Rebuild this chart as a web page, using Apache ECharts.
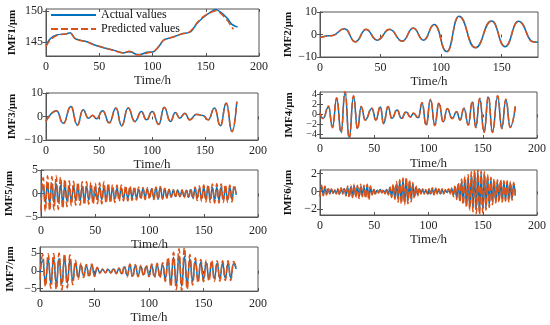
<!DOCTYPE html>
<html><head><meta charset="utf-8">
<script src="https://cdn.jsdelivr.net/npm/echarts@6/dist/echarts.min.js"></script>
<style>html,body{margin:0;padding:0;background:#fff}#c{width:550px;height:325px}</style>
</head><body><div id="c"></div>
<script>
// ---------- DATA ----------
const seriesNames = ['Actual values', 'Predicted values'];
const xName = 'Time/h';
const yNames = ['IMF1/μm', 'IMF2/μm', 'IMF3/μm', 'IMF4/μm', 'IMF5/μm', 'IMF6/μm', 'IMF7/μm'];

// IMF1 (slow trend)
const imf1TimeActual = [0,4,10,19.5,22.6,27.3,32,38.3,44.6,50.9,57,63.4,69.7,72.8,77.6,80.7,85.4,88.5,94.8,101,105.8,110.5,113.7,120,127.8,135.6,142,148.2,154.5,159.2,163.9,170.2,174.3,178,180];
const imf1Actual = [144.4,145.5,146.1,146.3,146.45,145.5,145.27,145.0,144.57,144.2,143.9,143.65,143.3,143.2,143.4,143.3,142.95,142.95,143.3,143.4,144.2,145.3,145.5,145.8,146.3,146.6,148.0,149.0,149.8,150.2,149.8,148.8,147.85,147.5,147.4];
const imf1TimePred = [0,4,10,19,23,27,32,38,45,51,57,63,70,73,78,81,85,89,95,101,106,110,114,120,128,135,142,148,154,160,164,170,174,176];
const imf1Pred = [144.2,145.3,146.0,146.3,146.4,145.6,145.2,145.0,144.5,144.25,143.9,143.6,143.25,143.2,143.45,143.3,142.9,142.9,143.2,143.4,144.3,145.2,145.5,145.8,146.3,146.6,148.1,149.1,149.7,150.0,149.6,148.5,147.5,147.0];

// IMF2 (turning points)
const imf2Time = [0,10,20.3,29.2,38,47.2,57.5,68,77,85.5,94.4,104.7,114.7,128.3,141.7,152.8,163.9,176.4,180];
const imf2Actual = [-1.3,-0.4,2.6,-3.2,2.2,-2.5,2.2,-2.9,2.9,-2.5,4.4,-7.6,8.1,-5.9,6.0,-5.4,5.9,-3.2,-3.5];
const imf2Pred = [-1.4,-0.5,2.7,-3.3,2.3,-2.4,2.3,-3.0,2.8,-2.6,4.3,-7.7,8.0,-5.8,6.1,-5.3,5.8,-3.3,-3.6];

// IMF3 (turning points)
const imf3Time = [0,10,16.3,23.5,29.5,35,40,44,47.7,53.4,59.7,66,71.3,77.5,83.8,90,94.8,100.2,106.4,111.5,117.4,122,126.2,131,135.6,142,148,153,159,164.5,170,175.5,180];
const imf3Actual = [-1.9,2.4,-2.9,4.3,-3.6,2.9,-0.7,0.4,-1.0,2.4,-2.6,3.6,-3.9,3.6,-2.1,2.1,-1.4,2.1,-3.3,3.9,-2.1,1.7,-0.7,1.4,-1.4,1.0,0.4,-1.4,3.6,-3.9,5.7,-6.4,6.4];
const imf3Pred = [-2.0,2.3,-3.0,4.4,-3.8,2.8,-0.8,0.5,-1.1,2.5,-2.8,3.5,-4.0,3.7,-2.2,2.0,-1.5,2.2,-3.4,3.8,-2.2,1.6,-0.8,1.3,-1.5,0.9,0.5,-1.5,3.5,-4.1,5.6,-6.5,6.2];

// IMF4 (turning points)
const imf4Time = [0,2.9,7.8,11.5,15.4,19.4,23.1,26.9,30.9,34.6,37.9,41.7,47.8,51.5,55.6,58.6,62.7,66.3,71,75,79.4,83.3,86.2,90.5,94.1,97.8,101.9,105.8,109.6,113.6,117.3,121.9,125.9,129.1,132.7,136.7,140.4,143.6,147.2,151.2,155.2,158.9,163.7,167.6,171.3,175.3,180];
const imf4Actual = [0.2,-0.8,1.5,-2.5,3.2,-3.5,4.4,-4.7,3.5,-2.8,1.5,-1.1,1.2,-1.1,1.5,-1.8,1.5,-0.8,0.9,-0.8,0.5,-0.5,0.2,-0.7,2.2,-2.1,2.9,-2.1,2.2,-1.5,1.1,-0.8,0.5,-1.1,1.2,-2.0,2.5,-2.5,3.1,-3.5,3.5,-3.5,3.5,-2.7,2.9,-2.5,1.5];
const imf4Pred = [0.3,-0.9,1.7,-2.7,3.4,-3.8,4.7,-5.0,3.8,-3.0,1.6,-1.2,1.3,-1.2,1.6,-1.9,1.6,-0.9,1.0,-0.9,0.6,-0.6,0.3,-0.8,2.4,-2.3,3.1,-2.3,2.4,-1.6,1.2,-0.9,0.6,-1.2,1.3,-2.2,2.7,-2.7,3.3,-3.7,3.7,-3.7,3.8,-2.9,3.1,-2.7,1.8];

// IMF5 (turning points every 2 h)
const imf5Step = 2;
const imf5Actual = [
 -0.8,1.6,-1.9,2.0,-2.1,2.2,-2.0,2.1,-1.9,1.8,
 -1.8,1.7,-1.6,1.5,-1.6,1.6,-1.5,1.4,-1.5,1.5,
 -1.4,1.5,-1.4,1.3,-1.5,1.4,-1.3,1.4,-1.3,1.3,
 -1.2,1.3,-1.2,1.1,-1.2,1.1,-1.0,1.1,-1.0,1.0,
 -1.0,1.1,-0.9,1.0,-0.9,0.9,-0.9,1.0,-0.8,0.9,
 -0.9,1.0,-1.0,1.3,-1.2,1.4,-1.1,1.0,-0.8,0.8,
 -0.7,0.7,-0.6,0.7,-0.6,0.6,-0.7,0.7,-0.8,0.8,
 -0.9,1.0,-1.0,1.1,-1.1,1.2,-1.2,1.3,-1.3,1.3,
 -1.4,1.3,-1.4,1.4,-1.3,1.3,-1.4,1.3,-1.2,1.2,
 -0.3];
const imf5Pred = [
 -3.6,3.4,-3.8,3.8,-3.7,3.6,-3.5,3.8,-3.4,3.5,
 -3.2,3.0,-2.8,2.7,-2.6,2.6,-2.5,2.4,-2.5,2.5,
 -2.4,2.5,-2.3,2.4,-2.3,2.2,-2.2,2.3,-2.2,2.5,
 -2.1,2.2,-2.0,1.9,-1.9,1.8,-1.7,1.8,-1.6,1.7,
 -1.6,1.6,-1.5,1.5,-1.4,1.4,-1.3,1.3,-1.3,1.2,
 -1.2,1.2,-1.3,1.4,-1.3,1.5,-1.2,1.1,-1.0,0.9,
 -0.8,0.8,-0.8,0.8,-0.7,0.8,-0.9,0.9,-1.0,1.1,
 -1.2,1.4,-1.5,1.6,-1.7,1.8,-1.8,1.9,-1.9,2.0,
 -2.0,2.1,-2.0,2.0,-1.9,1.9,-1.9,1.8,-1.8,1.8,
 -0.6];

// IMF6 (turning points every 1.5 h)
const imf6Step = 1.5;
const imf6Actual = [
 -0.5,0.5,-0.4,0.5,-0.3,0.3,-0.2,0.2,-0.2,0.1,
 -0.2,0.2,-0.3,0.3,-0.2,0.3,-0.4,0.4,-0.5,0.5,
 -0.5,0.6,-0.5,0.5,-0.6,0.5,-0.4,0.5,-0.5,0.6,
 -0.6,0.4,-0.3,0.2,-0.2,0.1,-0.1,0.2,-0.1,0.1,
 -0.2,0.2,-0.3,0.4,-0.5,0.6,-0.7,0.8,-0.9,1.0,
 -1.1,1.2,-1.2,1.1,-1.1,1.0,-0.9,0.8,-0.6,0.5,
 -0.4,0.3,-0.2,0.2,-0.2,0.1,-0.2,0.2,-0.3,0.3,
 -0.3,0.3,-0.2,0.2,-0.3,0.2,-0.2,0.1,-0.1,0.2,
 -0.2,0.3,-0.4,0.5,-0.7,0.8,-1.0,1.1,-1.2,1.4,
 -1.5,1.6,-1.7,1.8,-1.9,2.0,-2.0,2.1,-2.2,2.0,
 -2.1,1.9,-1.8,1.6,-1.5,1.3,-1.2,1.1,-1.1,1.0,
 -1.0,1.1,-1.0,1.0,-0.9,1.0,-1.0,0.9,-0.8,0.8,
 -0.4];
const imf6Pred = [
 -0.6,0.7,-0.5,0.6,-0.4,0.4,-0.3,0.3,-0.2,0.2,
 -0.3,0.3,-0.4,0.4,-0.3,0.4,-0.5,0.6,-0.7,0.7,
 -0.7,0.8,-0.7,0.7,-0.8,0.8,-0.6,0.7,-0.8,0.8,
 -1.0,0.6,-0.4,0.3,-0.3,0.2,-0.2,0.3,-0.2,0.2,
 -0.3,0.3,-0.4,0.5,-0.7,0.8,-0.9,1.1,-1.2,1.3,
 -1.4,1.5,-1.5,1.6,-1.4,1.3,-1.2,1.0,-0.8,0.6,
 -0.5,0.4,-0.3,0.3,-0.3,0.2,-0.3,0.3,-0.4,0.4,
 -0.4,0.4,-0.3,0.3,-0.4,0.3,-0.3,0.2,-0.2,0.3,
 -0.3,0.4,-0.6,0.7,-0.9,1.0,-1.2,1.4,-1.5,1.7,
 -1.8,1.9,-2.1,2.2,-2.3,2.4,-2.5,2.4,-2.6,2.3,
 -2.4,2.2,-2.1,1.9,-1.8,1.6,-1.5,1.4,-1.3,1.3,
 -1.2,1.3,-1.2,1.2,-1.1,1.2,-1.2,1.1,-1.0,1.0,
 -0.5];

// IMF7 (turning points every 2.5 h)
const imf7Step = 2.5;
const imf7Actual = [
 -0.5,3.0,-3.2,3.3,-3.5,3.4,-3.6,3.5,-3.7,3.5,
 -3.4,3.2,-2.8,2.2,-1.8,1.6,-1.4,1.3,-1.4,1.4,
 -1.2,0.7,-0.5,0.4,-0.5,0.4,-0.5,0.5,-0.6,0.6,
 -0.8,1.1,-1.3,1.4,-1.5,1.4,-1.3,1.2,-1.1,1.2,
 -1.3,1.4,-1.5,1.6,-1.5,1.7,-2.2,2.8,-3.3,3.8,
 -4.0,4.2,-4.3,4.1,-3.8,3.4,-3.0,2.8,-2.6,2.5,
 -2.4,2.3,-2.2,2.3,-2.2,2.1,-2.2,2.1,-2.0,2.1,
 -2.0,2.0,0.5];
const imf7Pred = [
 -2.5,4.6,-4.4,4.8,-5.0,4.9,-5.3,5.0,-5.4,4.8,
 -4.8,4.5,-3.9,3.0,-2.4,2.1,-1.9,1.8,-1.8,1.9,
 -1.6,1.0,-0.7,0.6,-0.6,0.6,-0.7,0.7,-0.8,0.8,
 -1.1,1.5,-1.7,1.9,-1.9,1.8,-1.7,1.6,-1.5,1.6,
 -1.7,1.9,-2.0,2.1,-2.0,2.3,-3.0,3.8,-4.5,5.2,
 -5.3,6.2,-5.6,6.5,-5.2,4.6,-4.0,3.7,-3.4,3.2,
 -3.1,3.0,-2.9,3.0,-2.9,2.8,-2.9,2.8,-2.7,2.8,
 -2.7,2.6,0.8];

// Axis ticks
const xTicksFull = [0,50,100,150,200];
const xTicksShort = [0,50,100,150];
const yTicks = [[145,150],[-10,0,10],[-10,0,10],[-4,-2,0,2,4],[-5,0,5],[-2,0,2],[-5,0,5]];
const xMaxes = [200,180,200,200,200,200,200];
const yMins = [142.7,-10,-10,-4.8,-5,-2.65,-5.7];
const yMaxes = [150.3,10,10,4.55,5,2.4,6.7];

// ---------- LAYOUT (positions only) ----------
const layout = [
  {left:46, top:9,   width:213, height:47, yGap:28, xGap:17, lblM:5, yFs:12},
  {left:320,top:12,  width:218, height:45, yGap:26, xGap:17, lblM:5, yFs:12},
  {left:46, top:93,  width:212, height:47, yGap:28, xGap:17, lblM:5, yFs:12},
  {left:320,top:92,  width:217, height:46, yGap:25, xGap:19, lblM:5, yFs:10},
  {left:41, top:170, width:217, height:47, yGap:26, xGap:17, lblM:8, yFs:12},
  {left:320,top:170, width:217, height:45, yGap:26, xGap:18, lblM:5, yFs:12},
  {left:40, top:247, width:218, height:47, yGap:24, xGap:16, lblM:7, yFs:12}
];

const pairs = (ts, vs) => ts.map((t, i) => [t, vs[i]]);
const stepped = (step, vs) => vs.map((v, i) => [i * step, v]);

const actualData = [
  pairs(imf1TimeActual, imf1Actual),
  pairs(imf2Time, imf2Actual),
  pairs(imf3Time, imf3Actual),
  pairs(imf4Time, imf4Actual),
  stepped(imf5Step, imf5Actual),
  stepped(imf6Step, imf6Actual),
  stepped(imf7Step, imf7Actual)
];
const predData = [
  pairs(imf1TimePred, imf1Pred),
  pairs(imf2Time, imf2Pred),
  pairs(imf3Time, imf3Pred),
  pairs(imf4Time, imf4Pred),
  stepped(imf5Step, imf5Pred),
  stepped(imf6Step, imf6Pred),
  stepped(imf7Step, imf7Pred)
];

const FONT = 'Liberation Serif';
const INK = '#262626';
const FRAME = '#555';
const BLUE = '#0072BD';
const ORANGE = '#D95319';

const grids = [], xAxes = [], yAxes = [], series = [];
layout.forEach((L, i) => {
  grids.push({left:L.left, top:L.top, width:L.width, height:L.height, show:true, borderColor:FRAME, borderWidth:1, backgroundColor:'transparent'});
  const xt = xMaxes[i] === 180 ? xTicksShort : xTicksFull;
  xAxes.push({
    type:'value', gridIndex:i, min:0, max:xMaxes[i], position:'bottom',
    axisLine:{show:true, onZero:false, lineStyle:{color:FRAME, width:1}},
    axisTick:{show:true, inside:true, length:3, customValues:xt, lineStyle:{color:FRAME}},
    axisLabel:{customValues:xt, hideOverlap:false, fontFamily:FONT, fontSize:12, color:INK, margin:L.lblM},
    splitLine:{show:false},
    name:xName, nameLocation:'middle', nameGap:L.xGap,
    nameTextStyle:{fontFamily:FONT, fontSize:13, color:INK}
  });
  yAxes.push({
    type:'value', gridIndex:i, min:yMins[i], max:yMaxes[i], position:'left',
    axisLine:{show:true, onZero:false, lineStyle:{color:FRAME, width:1}},
    axisTick:{show:true, inside:true, length:3, customValues:yTicks[i], lineStyle:{color:FRAME}},
    axisLabel:{customValues:yTicks[i], hideOverlap:false, showMinLabel:true, showMaxLabel:true,
      fontFamily:FONT, fontSize:L.yFs, color:INK, margin:3,
      formatter: v => (v < 0 ? '\u2212' + Math.abs(v) : String(v))},
    splitLine:{show:false},
    name:yNames[i], nameLocation:'middle', nameRotate:90, nameGap:L.yGap,
    nameTextStyle:{fontFamily:FONT, fontSize:11, fontWeight:'bold', color:'#111'}
  });
  const smoothCfg = i === 0 ? {smooth:0.3} : {smooth:0.5, smoothMonotone:'x'};
  series.push(Object.assign({
    name:seriesNames[0], type:'line', xAxisIndex:i, yAxisIndex:i, data:actualData[i],
    symbol:'none', clip:true, z:2,
    lineStyle:{color:BLUE, width:1.5, type:'solid'}, itemStyle:{color:BLUE}
  }, smoothCfg));
  series.push(Object.assign({
    name:seriesNames[1], type:'line', xAxisIndex:i, yAxisIndex:i, data:predData[i],
    symbol:'none', clip:true, z:3,
    lineStyle:{color:ORANGE, width:1.5, type:[7,3]}, itemStyle:{color:ORANGE}
  }, smoothCfg));
});
// mirrored ticks on top and right edges (MATLAB box style)
layout.forEach((L, i) => {
  const xt = xMaxes[i] === 180 ? xTicksShort : xTicksFull;
  xAxes.push({
    type:'value', gridIndex:i, min:0, max:xMaxes[i], position:'top',
    axisLine:{show:false}, axisLabel:{show:false}, splitLine:{show:false},
    axisTick:{show:true, inside:true, length:3, customValues:xt, lineStyle:{color:FRAME}}
  });
  yAxes.push({
    type:'value', gridIndex:i, min:yMins[i], max:yMaxes[i], position:'right',
    axisLine:{show:false}, axisLabel:{show:false}, splitLine:{show:false},
    axisTick:{show:true, inside:true, length:3, customValues:yTicks[i], lineStyle:{color:FRAME}}
  });
});

const chart = echarts.init(document.getElementById('c'), null, {renderer:'canvas'});
chart.setOption({
  animation:false,
  backgroundColor:'#fff',
  legend:{
    data:seriesNames, orient:'vertical', left:50, top:9, padding:0,
    itemWidth:45, itemHeight:12, itemGap:2,
    itemStyle:{opacity:0},
    textStyle:{fontFamily:FONT, fontSize:12, color:'#111'}
  },
  grid:grids, xAxis:xAxes, yAxis:yAxes, series:series
});
</script></body></html>
